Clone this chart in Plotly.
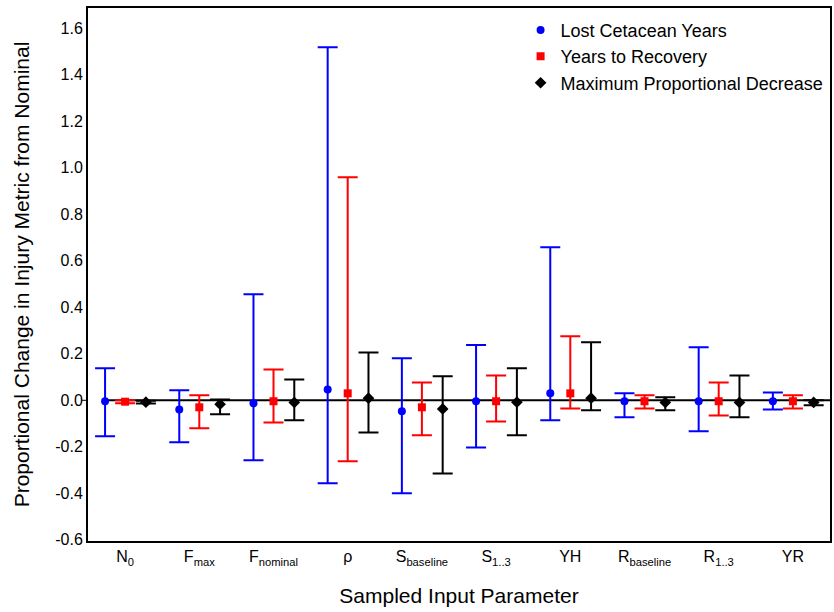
import plotly.graph_objects as go

categories = ["N<sub>0</sub>", "F<sub>max</sub>", "F<sub>nominal</sub>", "ρ", "S<sub>baseline</sub>",
              "S<sub>1..3</sub>", "YH", "R<sub>baseline</sub>", "R<sub>1..3</sub>", "YR"]

series_names = ["Lost Cetacean Years", "Years to Recovery", "Maximum Proportional Decrease"]

lcy_mean = [-0.004, -0.039, -0.013, 0.047, -0.047, -0.004, 0.030, -0.004, -0.004, -0.004]
lcy_high = [0.138, 0.043, 0.456, 1.518, 0.181, 0.238, 0.658, 0.030, 0.228, 0.034]
lcy_low = [-0.155, -0.180, -0.258, -0.357, -0.400, -0.203, -0.086, -0.073, -0.133, -0.039]

ytr_mean = [-0.006, -0.030, -0.004, 0.030, -0.030, -0.004, 0.030, -0.004, -0.004, -0.004]
ytr_high = [0.000, 0.022, 0.133, 0.959, 0.077, 0.107, 0.275, 0.022, 0.077, 0.022]
ytr_low = [-0.013, -0.120, -0.095, -0.262, -0.150, -0.091, -0.035, -0.035, -0.065, -0.035]

mpd_mean = [-0.008, -0.017, -0.009, 0.009, -0.037, -0.008, 0.009, -0.009, -0.009, -0.009]
mpd_high = [-0.002, 0.004, 0.090, 0.206, 0.103, 0.138, 0.250, 0.013, 0.107, 0.000]
mpd_low = [-0.014, -0.060, -0.086, -0.138, -0.315, -0.150, -0.043, -0.043, -0.073, -0.021]

y_ticks = [-0.6, -0.4, -0.2, 0.0, 0.2, 0.4, 0.6, 0.8, 1.0, 1.2, 1.4, 1.6]

offsets = [-0.27, 0.0, 0.28]
colors = ["#0000ff", "#ff0000", "#000000"]
symbols = ["circle", "square", "diamond"]
sizes = [8, 8, 9]

data = [(lcy_mean, lcy_high, lcy_low), (ytr_mean, ytr_high, ytr_low), (mpd_mean, mpd_high, mpd_low)]

fig = go.Figure()
for i, (mean, hi, lo) in enumerate(data):
    xs = [k + offsets[i] for k in range(len(categories))]
    fig.add_trace(go.Scatter(
        x=xs, y=mean, mode="markers", name=series_names[i],
        marker=dict(color=colors[i], symbol=symbols[i], size=sizes[i]),
        error_y=dict(type="data", symmetric=False,
                     array=[h - m for h, m in zip(hi, mean)],
                     arrayminus=[m - l for m, l in zip(mean, lo)],
                     color=colors[i], thickness=2, width=10),
    ))

# nominal reference line at zero
fig.add_shape(type="line", xref="x", yref="y", x0=offsets[0], x1=len(categories) - 0.5,
              y0=0, y1=0, line=dict(color="black", width=2), layer="below")
# small tick at zero on left axis
fig.add_shape(type="line", xref="paper", yref="y", x0=-0.008, x1=0, y0=0, y1=0,
              line=dict(color="black", width=1))

font_family = "Liberation Sans, Arial, sans-serif"
fig.update_layout(
    width=834, height=612,
    margin=dict(l=88, r=2, t=8, b=71),
    plot_bgcolor="white", paper_bgcolor="white",
    font=dict(family=font_family, color="black", size=16),
    showlegend=True,
    legend=dict(x=0.583, y=0.993, xanchor="left", yanchor="top",
                bgcolor="rgba(0,0,0,0)", font=dict(size=18), tracegroupgap=0),
    xaxis=dict(range=[-0.5, len(categories) - 0.5],
               tickvals=list(range(len(categories))), ticktext=categories,
               showline=True, mirror=True, linecolor="black", linewidth=2,
               showgrid=False, zeroline=False, ticks="",
               tickfont=dict(size=16),
               title=dict(text="Sampled Input Parameter", font=dict(size=21), standoff=22)),
    yaxis=dict(range=[-0.605, 1.687],
               tickvals=y_ticks, ticktext=[("%.1f" % v) for v in y_ticks],
               showline=True, mirror=True, linecolor="black", linewidth=2,
               showgrid=False, zeroline=False, ticks="",
               tickfont=dict(size=16),
               title=dict(text="Proportional Change in Injury Metric from Nominal",
                          font=dict(size=21), standoff=20)),
)

fig.write_html("out.html")
